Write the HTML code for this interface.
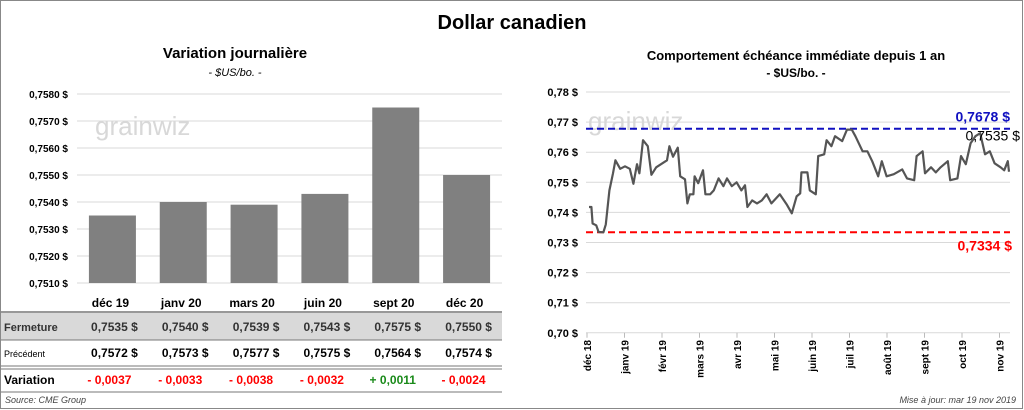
<!DOCTYPE html>
<html><head><meta charset="utf-8"><style>
body{margin:0;width:1024px;height:410px;overflow:hidden;background:#fff;font-family:"Liberation Sans",sans-serif}
svg{display:block}
</style></head><body>
<svg width="1024" height="410" font-family="Liberation Sans, sans-serif">
<rect x="0.5" y="0.5" width="1022" height="408" fill="#fff" stroke="#888"/>
<text x="512" y="29" text-anchor="middle" font-size="20" font-weight="bold">Dollar canadien</text>
<text x="235" y="58" text-anchor="middle" font-size="15" font-weight="bold">Variation  journalière</text>
<text x="235" y="76" text-anchor="middle" font-size="11" font-style="italic">- $US/bo. -</text>
<text x="796" y="60" text-anchor="middle" font-size="13" font-weight="bold">Comportement échéance immédiate depuis 1 an</text>
<text x="796" y="77" text-anchor="middle" font-size="12" font-weight="bold">- $US/bo. -</text>
<g id="left"></g>
<g id="right"></g>
<g id="table"></g>
<text x="5" y="403" font-size="9" font-style="italic" fill="#444">Source: CME Group</text>
<text x="1016" y="403" text-anchor="end" font-size="9" font-style="italic" fill="#444">Mise à jour: mar 19 nov 2019</text>
</svg>
<script>
const barCats=["déc 19","janv 20","mars 20","juin 20","sept 20","déc 20"];
const closeVals=[0.7535,0.7540,0.7539,0.7543,0.7575,0.7550];
const prevVals=[0.7572,0.7573,0.7577,0.7575,0.7564,0.7574];
const leftTicks=[0.7510,0.7520,0.7530,0.7540,0.7550,0.7560,0.7570,0.7580];
const lineDays=[0,2,3,6,8,12,14,17,20,22,26,30,34,37,40,42,45,49,52,56,60,65,67,70,74,76,80,82,84,87,88,91,95,97,101,104,108,112,115,119,123,127,130,132,136,140,144,148,152,159,165,169,173,176,177,182,184,189,191,196,198,202,205,211,215,219,222,228,232,236,241,244,248,254,261,265,271,273,278,280,285,289,293,299,301,307,310,314,318,322,326,330,334,338,343,346,349,350];
const lineVals=[.7418,.7418,.7363,.7357,.7335,.7334,.736,.7473,.753,.7573,.7545,.7553,.7545,.7495,.756,.753,.764,.762,.7525,.755,.756,.7573,.762,.7585,.7615,.752,.751,.743,.746,.746,.752,.7497,.754,.746,.746,.7473,.7513,.7487,.7513,.7487,.75,.7473,.749,.7418,.744,.743,.744,.746,.743,.746,.7425,.7397,.7453,.7463,.7533,.7533,.7473,.746,.7587,.7593,.764,.762,.7653,.7637,.7675,.7675,.7653,.7603,.7603,.757,.752,.757,.752,.7527,.7543,.7513,.7507,.7587,.7603,.753,.755,.7533,.755,.757,.7507,.7513,.7587,.756,.763,.7653,.7663,.7593,.7603,.7563,.755,.754,.757,.7535];
const rightTicks=[0.70,0.71,0.72,0.73,0.74,0.75,0.76,0.77,0.78];
const monthLabels=["déc 18","janv 19","févr 19","mars 19","avr 19","mai 19","juin 19","juil 19","août 19","sept 19","oct 19","nov 19"];
const highVal=0.7678, lowVal=0.7334, lastVal=0.7535;
const NS="http://www.w3.org/2000/svg";
function mk(p,t,a,txt){const e=document.createElementNS(NS,t);for(const k in a)e.setAttribute(k,a[k]);if(txt!==undefined)e.textContent=txt;p.appendChild(e);return e;}
const fmt=v=>v.toFixed(4).replace('.',',');
// left chart
const L=document.getElementById('left');
const ly=v=>94+(0.7580-v)*27000;
const lx0=77,lx1=502,band=(lx1-lx0)/barCats.length;
const lx=i=>lx0+band*(i+0.5);
leftTicks.forEach(t=>{
 const g=mk(L,'line',{x1:lx0,x2:lx1,y1:ly(t),y2:ly(t),stroke:'#d9d9d9'});
 
 const tx=mk(L,'text',{x:68,y:ly(t)+4,'text-anchor':'end','font-size':10,'font-weight':'bold'},fmt(t)+' $');
 
});
const wm=mk(L,'text',{x:95,y:135,'font-size':26,fill:'#d8d8d8'},'grainwiz');

closeVals.forEach((v,i)=>{
 const r=mk(L,'rect',{x:lx(i)-23.5,y:ly(v),width:47,height:283-ly(v),fill:'#808080'});
 
});
// table
const T=document.getElementById('table');
const colX=i=>lx(i)+2;
mk(T,'rect',{x:1,y:313,width:501,height:27,fill:'#d9d9d9'});
[[312,1.5],[340,1],[366,1],[369,1],[392,1]].forEach(([y,w])=>{
 const l=mk(T,'line',{x1:1,x2:502,y1:y,y2:y,stroke:'#777','stroke-width':w});
 
});
barCats.forEach((c,i)=>{
 const t=mk(T,'text',{x:colX(i)-4,y:307,'text-anchor':'middle','font-size':12,'font-weight':'bold'},c);
 
 const a=mk(T,'text',{x:colX(i),y:331,'text-anchor':'middle','font-size':12,'font-weight':'bold',fill:'#333'},fmt(closeVals[i])+'  $');
 
 const b=mk(T,'text',{x:colX(i),y:357,'text-anchor':'middle','font-size':12,'font-weight':'bold'},fmt(prevVals[i])+'  $');
 
 const d=closeVals[i]-prevVals[i];
 const s=(d<0?'- ':'+ ')+fmt(Math.abs(d));
 const c2=mk(T,'text',{x:colX(i)-5,y:384,'text-anchor':'middle','font-size':12,'font-weight':'bold',fill:d<0?'#f00':'#1a8a1a'},s);
 
});
[['Fermeture',331,11,'bold','#333'],['Précédent',357,9,'normal','#000'],['Variation',384,12,'bold','#000']].forEach(([t,y,fs,fw,f])=>{
 const e=mk(T,'text',{x:4,y:y,'font-size':fs,'font-weight':fw,fill:f},t);
 
});
// right chart
const R=document.getElementById('right');
const ry=v=>92+(0.78-v)*3010;
const rx=d=>589+d*1.2;
const rx0=586,rx1=1010;
rightTicks.forEach(t=>{
 const g=mk(R,'line',{x1:rx0,x2:rx1,y1:ry(t),y2:ry(t),stroke:'#d9d9d9'});
 
 const tx=mk(R,'text',{x:578,y:ry(t)+4,'text-anchor':'end','font-size':11,'font-weight':'bold'},t.toFixed(2).replace('.',',')+' $');
 
});
const wm2=mk(R,'text',{x:588,y:130,'font-size':26,fill:'#d8d8d8'},'grainwiz');

monthLabels.forEach((m,i)=>{
 const x=587+i*37.5;
 const tk=mk(R,'line',{x1:x,x2:x,y1:ry(0.70),y2:ry(0.70)+5,stroke:'#bbb'});
 
 const t=mk(R,'text',{x:x+4,y:340,'text-anchor':'end','font-size':10,'font-weight':'bold',transform:`rotate(-90 ${x+4} 340)`},m);
 
});
const hl=mk(R,'line',{x1:rx0,x2:rx1,y1:ry(highVal),y2:ry(highVal),stroke:'#1010c0','stroke-width':2,'stroke-dasharray':'7 4'});

const ll=mk(R,'line',{x1:rx0,x2:rx1,y1:ry(lowVal),y2:ry(lowVal),stroke:'#f00','stroke-width':2,'stroke-dasharray':'7 4'});

const pts=lineDays.map((d,i)=>rx(d).toFixed(1)+','+ry(lineVals[i]).toFixed(1)).join(' ');
const pl=mk(R,'polyline',{points:pts,fill:'none',stroke:'#555','stroke-width':2.2,'stroke-linejoin':'round'});

const ht=mk(R,'text',{x:1010,y:ry(highVal)-7,'text-anchor':'end','font-size':14,'font-weight':'bold',fill:'#1010c0'},fmt(highVal)+' $');

const lt=mk(R,'text',{x:1012,y:ry(lowVal)+18,'text-anchor':'end','font-size':14,'font-weight':'bold',fill:'#f00'},fmt(lowVal)+' $');

const lst=mk(R,'text',{x:1020,y:ry(highVal)+12,'text-anchor':'end','font-size':14,fill:'#000'},fmt(lastVal)+' $');

</script>
</body></html>
